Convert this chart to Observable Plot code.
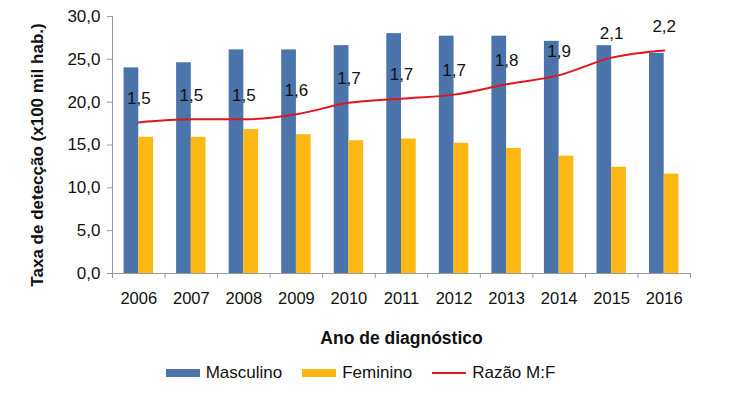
<!DOCTYPE html>
<html><head><meta charset="utf-8">
<script src="https://cdn.jsdelivr.net/npm/d3@7"></script>
<script src="https://cdn.jsdelivr.net/npm/@observablehq/plot@0.6"></script>
<style>
body{margin:0;background:#fff;font-family:"Liberation Sans",Arial,sans-serif;}
#legend{display:flex;justify-content:center;align-items:center;font-size:17px;color:#111;height:24px;margin-top:11px;padding-right:10px;}
.it{display:flex;align-items:center;margin:0 10px;}
.sw{display:inline-block;width:34px;height:8px;margin-right:6px;}
.ln{display:inline-block;width:34px;height:2px;margin-right:6px;}
</style></head>
<body>
<div id="chart"></div>
<div id="legend">
<span class="it"><span class="sw" style="background:#4a74aa"></span>Masculino</span>
<span class="it"><span class="sw" style="background:#fdb813"></span>Feminino</span>
<span class="it"><span class="ln" style="background:#e2141e"></span>Razão M:F</span>
</div>
<script>
const years = [2006,2007,2008,2009,2010,2011,2012,2013,2014,2015,2016];
const masculino = [24.0,24.6,26.1,26.1,26.6,28.0,27.7,27.7,27.1,26.6,25.7];
const feminino = [15.9,15.9,16.8,16.2,15.5,15.7,15.2,14.6,13.7,12.4,11.6];
const razao = [1.47,1.50,1.50,1.55,1.66,1.70,1.74,1.84,1.93,2.10,2.17];
const razaoLabels = [1.5,1.5,1.5,1.6,1.7,1.7,1.7,1.8,1.9,2.1,2.2];
const yTicks = [0,5,10,15,20,25,30];
const ratioMax = 2.5; // secondary axis maximum

const data = years.map((y,i)=>({year:y, m:masculino[i], f:feminino[i], r:razao[i], lab:razaoLabels[i]}));
const yMax = 30;
const toPrimary = v => v * yMax / ratioMax;
const fmt = v => v.toFixed(1).replace(".", ",");
const bounds = years.map(y=>y-0.5).concat([years[years.length-1]+0.5]);

const chart = Plot.plot({
  width: 731, height: 350,
  marginLeft: 112, marginRight: 41, marginTop: 16, marginBottom: 77,
  style: {fontFamily: '"Liberation Sans", Arial, sans-serif', background: "#fff", color: "#111"},
  x: {domain: [2005.5, 2016.5]},
  y: {domain: [0, 30]},
  marks: [
    Plot.rectY(data, {x1: d=>d.year-0.28, x2: d=>d.year, y: "m", fill: "#4a74aa"}),
    Plot.rectY(data, {x1: d=>d.year, x2: d=>d.year+0.28, y: "f", fill: "#fdb813"}),
    Plot.line(data, {x: "year", y: d=>toPrimary(d.r), stroke: "#e2141e", strokeWidth: 2, curve: "monotone-x"}),
    Plot.text(data, {x: "year", y: d=>toPrimary(d.r), text: d=>fmt(d.lab), dy: -24, fontSize: 17, fill: "#111"}),
    Plot.ruleY([0], {stroke: "#999"}),
    Plot.ruleX([2005.5], {y1: 0, y2: 30, stroke: "#999"}),
    Plot.axisY({ticks: yTicks, tickFormat: fmt, tickSize: 5, tickPadding: 7, fontSize: 17, stroke: "#999", label: null}),
    Plot.axisX({ticks: years, tickFormat: d=>String(d), tickSize: 0, tickPadding: 19, fontSize: 16.5, label: null}),
    Plot.axisX({ticks: bounds, tickFormat: () => "", tickSize: 5, stroke: "#999", label: null}),
    Plot.text(["Ano de diagnóstico"], {frameAnchor: "bottom", lineAnchor: "middle", dy: 65, dx: 0, text: d=>d, fontSize: 17.5, fontWeight: "bold", fill: "#111"}),
    Plot.text(["Taxa de detecção (x100 mil hab.)"], {frameAnchor: "left", textAnchor: "middle", dx: -75, dy: 10, rotate: -90, text: d=>d, fontSize: 17, fontWeight: "bold", fill: "#111"})
  ]
});
document.getElementById("chart").appendChild(chart);
</script>
</body></html>
